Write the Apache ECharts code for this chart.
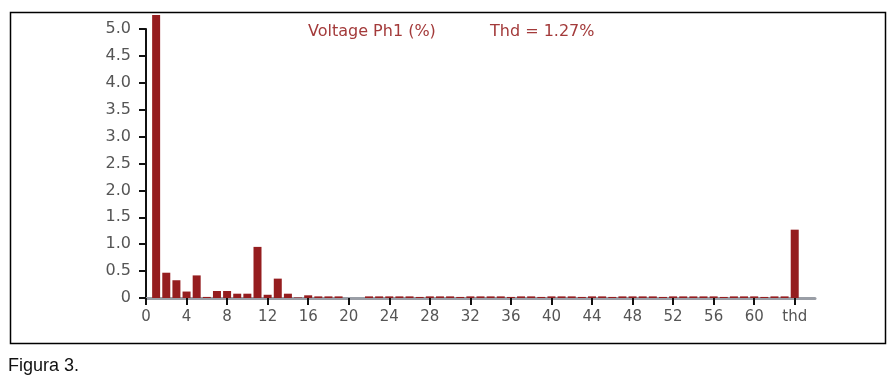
<!DOCTYPE html>
<html>
<head>
<meta charset="utf-8">
<script src="https://cdn.jsdelivr.net/npm/echarts@6/dist/echarts.min.js"></script>
<style>
html,body{margin:0;padding:0;background:#fff;}
#chart{width:894px;height:380px;}
</style>
</head>
<body>
<div id="chart"></div>
<script>
// Harmonic orders 1..63 and the "thd" column (drawn at position 64)
const harmonics = [];
for (let i = 1; i <= 63; i++) harmonics.push(i);
// Harmonic values in % (h1 is the fundamental, clipped at the top of the chart)
const harmonicValues = [
  5.26, 0.47, 0.33, 0.12, 0.42, 0.02, 0.13, 0.13, 0.08, 0.08,
  0.95, 0.06, 0.36, 0.08, 0.01, 0.05, 0.03, 0.03, 0.03, 0.00,
  0.00, 0.03, 0.03, 0.03, 0.03, 0.03, 0.02, 0.03, 0.03, 0.03,
  0.02, 0.03, 0.03, 0.03, 0.03, 0.02, 0.03, 0.03, 0.02, 0.03,
  0.03, 0.03, 0.02, 0.03, 0.03, 0.02, 0.03, 0.03, 0.03, 0.03,
  0.02, 0.03, 0.03, 0.03, 0.03, 0.03, 0.02, 0.03, 0.03, 0.03,
  0.02, 0.03, 0.03
];
const thdPosition = 64;
const thdValue = 1.27;
const xTickValues = [0, 4, 8, 12, 16, 20, 24, 28, 32, 36, 40, 44, 48, 52, 56, 60, 64];
const yTickLabels = ['0', '0.5', '1.0', '1.5', '2.0', '2.5', '3.0', '3.5', '4.0', '4.5', '5.0'];
const titleText = 'Voltage Ph1 (%)';
const thdText = 'Thd = 1.27%';
const caption = 'Figura 3.';

const barData = harmonics.map((h, i) => [h, harmonicValues[i]]);
barData.push([thdPosition, thdValue]);

const chart = echarts.init(document.getElementById('chart'), null, {renderer: 'canvas'});
chart.setOption({
  animation: false,
  backgroundColor: '#fff',
  grid: {left: 146, right: 79, top: 29, bottom: 82, containLabel: false},
  xAxis: {
    type: 'value', min: 0, max: 66,
    axisLine: {show: true, onZero: true, lineStyle: {color: '#9a9ea6', width: 3}},
    axisTick: {show: true, length: 7, customValues: xTickValues, lineStyle: {color: '#111', width: 2}},
    axisLabel: {
      customValues: xTickValues, margin: 12,
      color: '#555', fontFamily: 'DejaVu Sans', fontSize: 15,
      formatter: v => v === thdPosition ? 'thd' : String(v)
    },
    splitLine: {show: false}
  },
  yAxis: {
    type: 'value', min: 0, max: 5, interval: 0.5,
    axisLine: {show: true, lineStyle: {color: '#111', width: 2}},
    axisTick: {show: true, length: 7, lineStyle: {color: '#111', width: 2}},
    axisLabel: {
      margin: 15, color: '#555', fontFamily: 'DejaVu Sans', fontSize: 16,
      formatter: v => yTickLabels[Math.round(v / 0.5)]
    },
    splitLine: {show: false}
  },
  series: [{
    type: 'bar', data: barData, barWidth: 8, clip: false,
    itemStyle: {color: '#951d1f'}
  }],
  graphic: [
    {type: 'rect', left: 8, top: 10, shape: {width: 875, height: 331},
     style: {fill: 'none', stroke: '#000', lineWidth: 1.5}, z: 0},
    {type: 'text', left: 308, top: 24, style: {text: titleText, fill: '#a33a3a', font: '16px "DejaVu Sans"'}},
    {type: 'text', left: 490, top: 24, style: {text: thdText, fill: '#a33a3a', font: '16px "DejaVu Sans"'}},
    {type: 'text', left: 8, top: 357, style: {text: caption, fill: '#111', font: '18px "Liberation Sans"'}}
  ]
});
</script>
</body>
</html>
